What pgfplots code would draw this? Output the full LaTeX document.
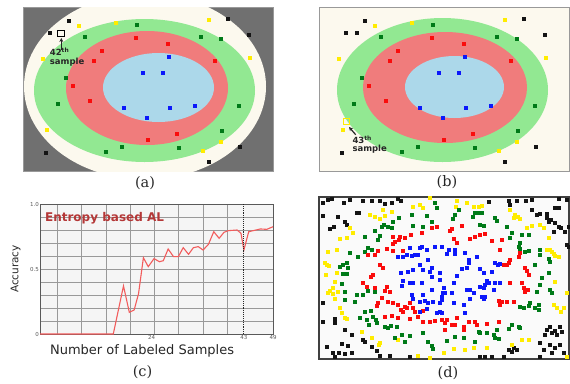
\documentclass[border=0pt]{standalone}
\usepackage{pgfplots}
\pgfplotsset{compat=1.18}
\usepackage{pgfplotstable}
\usetikzlibrary{arrows.meta}
\usepackage{fontspec}
\setmainfont{DejaVu Sans}
\newfontfamily\serifl{DejaVu Serif}

\definecolor{bgray}{RGB}{112,112,112}
\definecolor{cream}{RGB}{252,249,238}
\definecolor{lgreen}{RGB}{146,232,146}
\definecolor{lred}{RGB}{240,124,124}
\definecolor{lblue}{RGB}{172,216,234}
\definecolor{pblack}{RGB}{20,20,20}
\definecolor{pyellow}{RGB}{255,236,0}
\definecolor{pgreen}{RGB}{0,122,24}
\definecolor{pred}{RGB}{250,12,12}
\definecolor{pblue}{RGB}{12,24,250}
\definecolor{accline}{RGB}{242,92,92}
\definecolor{titlered}{RGB}{180,55,55}

% ---------- panels (a)/(b): training samples (pixels inside the frame) ----------
\pgfplotstableread{
x y
45.3 13.7
26.3 25.7
204.3 11.9
225.5 27.5
22.2 145.2
217 140
185.3 154.3
}\abBlack
\pgfplotstableread{
x y
55.7 19
92.2 15.8
185.3 12.8
20 51.2
226.8 50.3
23.2 122.8
197.2 134.7
180 143.8
}\abYellow
\pgfplotstableread{
x y
113.2 17.5
61.8 29.5
177.3 29.2
197.2 31.5
42.7 70.8
34.5 97
215.5 98.7
199 123.2
98.5 139.5
155.3 140.3
82.5 145
}\abGreen
\pgfplotstableread{
x y
112.2 30.3
144.5 36.3
78.2 43.7
70.5 53.5
192 53.7
49.3 78.5
66.5 93.2
154 127
124.8 132.8
}\abRed
\pgfplotstableread{
x y
145.3 49.7
119.3 65.7
139.3 65.2
100.3 101
146.3 100.3
172 98.2
123.2 110.8
}\abBlue

% ---------- panel (c): accuracy curve ----------
\pgfplotstableread{
n acc
1 0
16.1 0
18.2 0.37
19.4 0.167
20.4 0.185
21.3 0.31
22.3 0.587
23.3 0.518
24.5 0.58
25.6 0.556
26.4 0.564
27.4 0.654
28.5 0.595
29.5 0.595
30.5 0.664
31.6 0.613
32.6 0.664
33.6 0.672
34.6 0.646
35.7 0.69
36.8 0.787
37.9 0.736
38.9 0.782
39.8 0.795
41.6 0.80
42.4 0.775
43 0.646
44 0.787
46.4 0.808
47.7 0.805
49 0.825
}\accdata

% ---------- panel (d): full data set ----------
\pgfplotstableread{
x y
3.3 6
9 2.7
12.3 2
24.7 5.3
30.7 2.7
37.3 16
39.7 15.3
44 3.3
52.3 3.3
60.7 3.3
65.7 7
72.3 6
79 2
81.3 3.3
19 20
25.7 24.3
27.3 27.7
14.7 29.3
10.7 32
4 18.7
4 106
4 124.3
15.7 122
15.7 126
25.7 132.7
32.3 137.7
44 142.7
45.7 145
22.3 146.7
29 148.7
52.3 150
57.3 153.3
14 155.3
20 155.3
25.7 156.7
32.3 156
60.7 158.7
15.7 159.3
70.7 158.7
90.7 159.3
7.3 150
169.3 4.3
189.3 3.3
197.7 3.3
207 3.3
212.7 2.7
191 7.7
212.7 12.7
217.7 17.7
221 16.7
227.7 16.7
236 11
239.3 11
239.3 2
247.7 2.7
227.7 21
229.3 24.3
231.7 22.7
236 26
239.3 29.3
241.7 31
249.3 29.3
246 34.3
234.3 34.3
247.7 47.7
249.3 50
231 129.3
227.7 132.7
226 137.7
232.7 136
236 133.3
237.7 137.7
241 129.3
242.7 134.3
221 146
231 147.7
236 151
241 147.7
244.3 155.3
232.7 156
224.3 152.7
221 159.3
197.7 152.7
195 151
192.7 154.3
189.3 152.7
184.3 159.3
161 160
166 159.3
172.7 159.3
}\dBlack
\pgfplotstableread{
x y
110.7 1
50.7 17.7
55.7 20
60.7 22
65.7 18.7
64 12.7
72.3 14.3
94 9.3
100.7 7.7
104 11
30.7 31
20.7 42
27.3 41
34 36
9 54.3
17.3 52.7
5.7 66
7.3 67.7
10 68.7
6.7 77.7
17.3 76
15.7 84.3
14 91
10.7 93.3
19 94.3
9 96
13.3 96.7
15.7 102
20.7 111
22.3 116
25.7 121
28 122
42.3 134.3
52.3 141
60.7 146
60 147.7
79 142.7
99 158.7
110.7 160.3
137.7 3.3
137 9.3
147.7 6
154.3 9.3
159.3 9.3
162.7 8.7
191 12.7
196 17.7
198.3 20
201 22
194.3 21
221 27.7
224.3 31
207.7 31
212.7 28.7
229.3 41
232.7 54.3
234.3 56.7
236 58.7
239.3 60
227.7 52.7
231 52.7
236 84.3
247.7 96
234.3 107.7
237.7 111
241.7 114.3
244.3 111
202.7 142.7
209.3 142.7
192.7 147.7
167.7 151
154.3 151
146 152.7
134.3 152
124.3 156
247.7 159.3
}\dYellow
\pgfplotstableread{
x y
92.3 17.7
107.3 18.7
80 21
74 24.3
72.3 31
69 29.3
64.7 27.7
62.3 30
55.7 33.3
45.7 39.3
60.7 38.7
59 42.7
49 51
45.7 54.3
52.3 52.7
30.7 56
39 60
27.3 66
24 67.7
20.7 69.3
29 71
24 76.7
28 76.7
22.3 86.7
25.7 94.3
25.7 102.7
37.3 97.7
35.7 104.3
44 97.7
49 93.3
55.7 94.3
45.7 114.3
51.3 113.3
40.7 121
47.3 122.7
53.3 120
56.7 122.7
58 125.3
50 127.7
65.7 129.3
69 131
71.3 128.7
77.3 129.3
75.7 140.3
82.3 137.7
90.7 138.7
85.7 144.3
104 136
109 144.3
112.3 148.7
114 152
94 28.7
104 29.3
112.3 24.3
116 6
117.3 11
139.3 12.7
136 17.7
133.7 22
156 15.3
153.7 20
159.3 16
162.7 15.3
161 27.7
164.3 28.7
176 21
177.7 23.3
187.7 29.3
192.7 36
191 41
202.7 37.7
209.3 37.7
201 45.3
199.3 49.3
201 52
206 54.3
209.3 53.3
216 67.7
221 52.7
221 57.7
229.3 62
231 64.3
229.3 76
217.7 94.3
222.7 81
221 87.7
231 92.7
232.7 96
211 106
209.3 108.7
219.3 107.7
216 111
219.3 112.7
201 109.3
204.3 111
199.3 129.3
201 131
192.7 127.7
189.3 132
177.7 132.7
176 141
179.3 142
167.7 136
174.3 137.7
161 135.3
159.3 134.3
144.3 141
136 139.3
127.7 143.3
156 144.3
}\dGreen
\pgfplotstableread{
x y
74 39.3
80.7 39.3
85.7 41
91.3 37.7
75.7 44.3
74 46.7
80 42.7
102.3 36
84 53.3
67.3 52
59 53.3
55.7 57.7
49 57.7
74 53.3
54 77.7
51.3 79.3
60.7 67.7
64 71
44 86
47.3 89.3
55.7 91
67.3 89.3
65.7 93.3
70.7 94.3
62.3 101
59 106
57.3 108.7
69 104.3
74 105.3
79 107.7
81.3 112.7
85.7 109.3
90.7 106
87.3 111
84 114.3
94 111
95.7 114.3
65.7 119.3
72.3 118.7
79 120.3
90.7 122
104 124.3
110.7 124.3
115.7 123.3
122.3 122.7
104 113.3
99 120
112.3 31
117.3 29.3
132.7 32
131 33.3
142.7 28.7
134.3 42
137.7 45.3
151 42
156 39.3
161 37.7
166 36.7
172.7 43.7
182.7 42.7
181 52.7
191 62.7
189.3 66
187.7 67.7
184.3 67.7
199.3 59.3
201 56
206 71
207.7 73.3
209.3 77.7
202.7 85.3
204.3 91
206 94.3
208.3 92.7
179.3 103.3
182.7 104.3
187.7 104.3
194.3 104.3
181 107.7
191 86
127.7 122.7
126 126
132.7 127.7
136 127.7
137.7 121
144.3 129.3
144.3 132.7
149.3 124.3
156 124.3
157.7 127.7
167.7 127
179.3 124.3
126 132.7
}\dRed
\pgfplotstableread{
x y
90.7 51
100.7 51
102.3 49.3
107.3 52.7
115.7 49.3
95.7 57.7
84 59.3
87.3 57.7
92.3 58.7
99 57.7
79 60
109 62.7
112.3 71
100.7 67.7
104 72.7
94 72.7
89 74.3
81.3 76
84 83.3
90.7 85.3
94 85.3
102.3 86
110.7 74.3
112.3 79.3
120.7 76
120.7 82.7
112.3 92.7
104 97.7
92.3 97.7
82.3 88.7
94 102
100.7 104.3
105.7 103.3
109 106
114 104.3
120.7 106
122.3 99.3
100.7 114.3
107.3 112
117.3 116
120.7 114.3
124 96
122.7 49.3
129.3 52.7
136 52.7
127.7 56.7
136 56.7
146 56
149.3 62.7
149.3 65.3
157.7 60
147.7 71
142.7 72
161 72
164.3 76
176 66
181 66.7
178.3 67.7
172.7 74.3
137.7 78.7
134.3 85.3
124.3 91
126 96
132.7 95.3
122.7 102.7
134.3 106
144.3 107.7
147.7 92.7
151 92.7
154.3 96
161 90
164.3 91
167.7 83.3
169.3 86
166 87.7
176 85.3
181 86
162.7 99.3
164.3 102
166 100
151 102
174.3 92.7
122.7 116
146 116
}\dBlue

\pgfplotsset{
  mapax/.style={scale only axis, width=250pt, height=164pt,
    xmin=0, xmax=250, ymin=0, ymax=164, y dir=reverse,
    axis line style={black!40, line width=0.6pt}, ticks=none, anchor=north west},
  sq/.style={only marks, mark=square*, mark size=1.5pt, mark options={draw=none}},
}

\begin{document}
\begin{tikzpicture}
\useasboundingbox (0pt,0pt) rectangle (570pt,-383pt);

% ---------------- (a) ----------------
\begin{axis}[mapax, at={(23pt,-7pt)}, axis background/.style={fill=bgray}]
\fill[cream] (axis cs:122,79.5) ellipse [x radius=121, y radius=93];
\fill[lgreen] (axis cs:121.5,83.5) ellipse [x radius=110.5, y radius=71.5];
\fill[lred] (axis cs:124,81) ellipse [x radius=81, y radius=57];
\fill[lblue] (axis cs:135.5,80.5) ellipse [x radius=55.5, y radius=34.5];
\addplot[sq, pblack] table {\abBlack};
\addplot[sq, pyellow] table {\abYellow};
\addplot[sq, pgreen] table {\abGreen};
\addplot[sq, pred] table {\abRed};
\addplot[sq, pblue] table {\abBlue};
\addplot[only marks, mark=square, mark size=3.3pt, mark options={line width=1.1pt}, black] coordinates {(38.2,26.5)};
\draw[-{Stealth[length=4pt,width=4pt]}, line width=1.2pt, black!85] (axis cs:38.3,42.7) -- (axis cs:38.3,31);
\node[anchor=base west, inner sep=0pt, font=\bfseries\fontsize{8.5}{9}\selectfont, text=black!85] at (axis cs:26.7,48.7) {42\textsuperscript{th}};
\node[anchor=base west, inner sep=0pt, font=\bfseries\fontsize{8.5}{9}\selectfont, text=black!85] at (axis cs:26.7,57.5) {sample};
\end{axis}

% ---------------- (b) ----------------
\begin{axis}[mapax, at={(319pt,-7pt)}, axis background/.style={fill=cream}]
\fill[lgreen] (axis cs:123.5,83) ellipse [x radius=105.5, y radius=72];
\fill[lred] (axis cs:126,80.5) ellipse [x radius=82, y radius=55.5];
\fill[lblue] (axis cs:135.5,80) ellipse [x radius=49.5, y radius=31];
\addplot[sq, pblack] table {\abBlack};
\addplot[sq, pblack] coordinates {(37.5,25.2)};
\addplot[sq, pyellow] table {\abYellow};
\addplot[sq, pgreen] table {\abGreen};
\addplot[sq, pred] table {\abRed};
\addplot[sq, pblue] table {\abBlue};
\addplot[only marks, mark=square, mark size=3pt, mark options={line width=1.2pt}, pyellow] coordinates {(27.3,114.3)};
\draw[-{Stealth[length=4pt,width=4pt]}, line width=1.2pt, black!85] (axis cs:36.7,127.7) -- (axis cs:30,120);
\node[anchor=base west, inner sep=0pt, font=\bfseries\fontsize{8.5}{9}\selectfont, text=black!85] at (axis cs:33.3,136) {43\textsuperscript{th}};
\node[anchor=base west, inner sep=0pt, font=\bfseries\fontsize{8.5}{9}\selectfont, text=black!85] at (axis cs:33.3,144.5) {sample};
\end{axis}

% ---------------- (c) ----------------
\begin{axis}[at={(40pt,-204pt)}, anchor=north west, scale only axis,
  width=233pt, height=130pt, xmin=1, xmax=49, ymin=0, ymax=1,
  xtick={24,43,49}, xticklabels={24,43,49},
  ytick={0,0.5,1}, yticklabels={0,0.5,1.0},
  minor xtick={4.6,9.6,14.6,19.6,24.6,29.6,34.6,39.6},
  minor ytick={0.1,0.2,0.3,0.4,0.6,0.7,0.8,0.9},
  xmajorgrids=false, ymajorgrids=true, xminorgrids=true, yminorgrids=true,
  major grid style={black!40, line width=0.7pt},
  minor grid style={black!40, line width=0.7pt},
  major tick length=0pt, minor tick length=0pt,
  axis line style={black!65, line width=1pt},
  axis background/.style={fill=black!4},
  tick label style={font=\fontsize{5.5}{6}\selectfont, text=black!65, inner sep=1pt},
  xlabel={Number of Labeled Samples},
  xlabel style={at={(axis description cs:0.438,-0.154)}, anchor=base, font=\fontsize{13}{14}\selectfont, text=black!85},
  ylabel={Accuracy},
  ylabel style={at={(axis description cs:-0.105,0.5)}, anchor=center, rotate=0, font=\fontsize{10.5}{12}\selectfont, text=black!85},
  clip=false]
\addplot[accline, line width=1.1pt, no marks] table {\accdata};
\draw[densely dotted, line width=0.9pt, black!85] (axis cs:43,0) -- (axis cs:43,1);
\node[anchor=base west, inner sep=0pt, font=\bfseries\fontsize{12}{13}\selectfont, text=titlered] at (axis description cs:0.021,0.869) {Entropy based AL};
\end{axis}

% ---------------- (d) ----------------
\begin{axis}[at={(319pt,-197pt)}, anchor=north west, scale only axis,
  width=250pt, height=162pt, xmin=0, xmax=250, ymin=0, ymax=162, y dir=reverse,
  ticks=none, axis line style={black!75, line width=1.2pt},
  axis background/.style={fill=black!2}]
\addplot[sq, pblack] table {\dBlack};
\addplot[sq, pyellow] table {\dYellow};
\addplot[sq, pgreen] table {\dGreen};
\addplot[sq, pred] table {\dRed};
\addplot[sq, pblue] table {\dBlue};
\end{axis}

% panel captions
\node[font=\serifl\fontsize{14.5}{15}\selectfont, text=black!85] at (145pt,-183.5pt) {(a)};
\node[font=\serifl\fontsize{14.5}{15}\selectfont, text=black!85] at (447pt,-182.5pt) {(b)};
\node[font=\serifl\fontsize{14.5}{15}\selectfont, text=black!85] at (142.5pt,-372pt) {(c)};
\node[font=\serifl\fontsize{14.5}{15}\selectfont, text=black!85] at (448pt,-373.5pt) {(d)};
\end{tikzpicture}
\end{document}
